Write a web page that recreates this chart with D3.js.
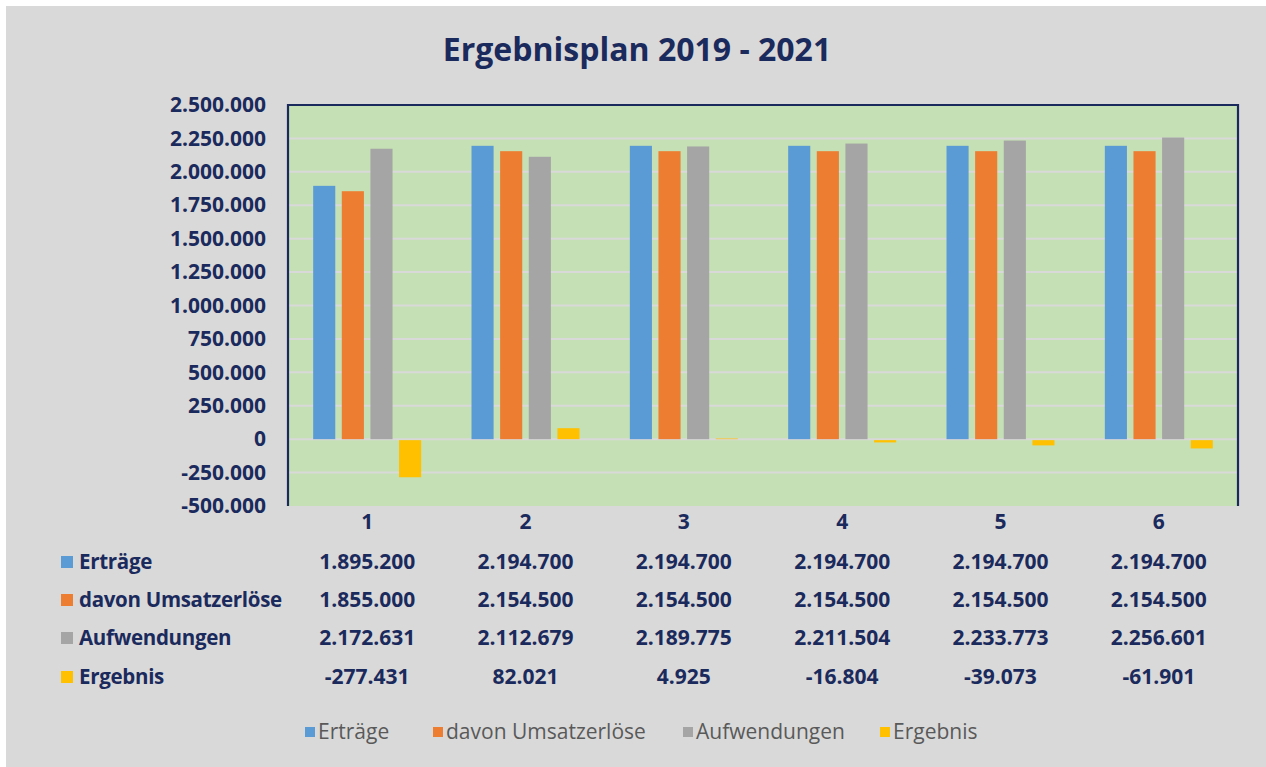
<!DOCTYPE html>
<html><head><meta charset="utf-8">
<script src="https://cdn.jsdelivr.net/npm/d3@7"></script>
<style>
html,body{margin:0;padding:0;background:#fff;}
text{font-family:"Open Sans",Lato,sans-serif;}
</style></head>
<body>
<svg id="c" width="1266" height="767"></svg>
<script>
const categories = ["1","2","3","4","5","6"];
const seriesNames = ["Erträge","davon Umsatzerlöse","Aufwendungen","Ergebnis"];
const ertraege = [1895200,2194700,2194700,2194700,2194700,2194700];
const umsatzerloese = [1855000,2154500,2154500,2154500,2154500,2154500];
const aufwendungen = [2172631,2112679,2189775,2211504,2233773,2256601];
const ergebnis = [-277431,82021,4925,-16804,-39073,-61901];
const yTicks = [-500000,-250000,0,250000,500000,750000,1000000,1250000,1500000,1750000,2000000,2250000,2500000];
const colors = ["#5b9bd5","#ed7d31","#a5a5a5","#ffc000"];
const title = "Ergebnisplan 2019 - 2021";

const seriesValues = [ertraege, umsatzerloese, aufwendungen, ergebnis];
const de = d3.formatLocale({decimal:",", thousands:".", grouping:[3], currency:["","€"], minus:"-"});
const fmt = de.format(",d");
const navy = "#1b2a5c";
const FF = "'Open Sans',Lato,sans-serif";

const svg = d3.select("#c");
svg.append("rect").attr("x",6).attr("y",6).attr("width",1260).attr("height",761).attr("fill","#d9d9d9");

const L=288, R=1238, T=105, B=506;
const x = d3.scaleBand().domain(categories).range([L,R]).padding(0);
const xs = d3.scaleBand().domain(seriesNames).range([-54,54]).paddingInner(0.228).paddingOuter(0);
const y = d3.scaleLinear().domain([-500000,2500000]).range([B,T]);

svg.append("rect").attr("x",L).attr("y",T).attr("width",R-L).attr("height",B-T).attr("fill","#c5e0b4");

// gridlines
svg.append("g").selectAll("line").data(yTicks.filter(v=>v>-500000 && v<2500000)).join("line")
  .attr("x1",L).attr("x2",R).attr("y1",d=>y(d)).attr("y2",d=>y(d))
  .attr("stroke","#d9d9d9").attr("stroke-width",2);

// bars
const groups = svg.append("g").selectAll("g").data(categories).join("g")
  .attr("transform",d=>`translate(${x(d)+x.bandwidth()/2},0)`);
groups.selectAll("rect").data((c,i)=>seriesNames.map((s,j)=>({s,v:seriesValues[j][i],c:colors[j]}))).join("rect")
  .attr("x",d=>xs(d.s)).attr("width",xs.bandwidth())
  .attr("y",d=>d.v>=0?y(d.v):y(0)+1)
  .attr("height",d=>Math.abs(y(d.v)-y(0)))
  .attr("fill",d=>d.c);

// borders
svg.append("path").attr("d",`M${L},${B}V${T}H${R}V${B}`).attr("fill","none").attr("stroke",navy).attr("stroke-width",2.2);

// y axis
const yAxis = d3.axisLeft(y).tickValues(yTicks).tickFormat(d=>fmt(d)).tickSize(0).tickPadding(22);
const ga = svg.append("g").attr("transform",`translate(${L},0)`).call(yAxis);
ga.select(".domain").remove();
ga.selectAll("text").attr("fill",navy).attr("font-weight","bold").attr("font-size",21)
  .attr("font-family",FF);

// x axis labels
const xa = d3.axisBottom(x).tickSize(0).tickPadding(8);
const gx = svg.append("g").attr("transform",`translate(0,${B})`).call(xa);
gx.select(".domain").remove();
gx.selectAll("text").attr("fill",navy).attr("font-weight","bold").attr("font-size",21)
  .attr("font-family",FF);

// data table
const rowY = [562,600,638,677];
seriesNames.forEach((s,j)=>{
  svg.append("rect").attr("x",61).attr("y",rowY[j]-6).attr("width",12).attr("height",12).attr("fill",colors[j]);
  svg.append("text").attr("x",79).attr("y",rowY[j]).attr("dy","0.35em").text(s)
    .attr("fill",navy).attr("font-weight","bold").attr("font-size",20.5).attr("letter-spacing",-0.3);
  svg.append("g").selectAll("text").data(categories).join("text")
    .attr("x",d=>x(d)+x.bandwidth()/2).attr("y",rowY[j]).attr("dy","0.35em").attr("text-anchor","middle")
    .attr("fill",navy).attr("font-weight","bold").attr("font-size",21)
    .text((d,i)=>fmt(seriesValues[j][i]));
});

// title
svg.append("text").attr("x",637).attr("y",61).attr("text-anchor","middle").text(title)
  .attr("fill",navy).attr("font-weight","bold").attr("font-size",32);

// legend
const legX = [305,433,683,880];
seriesNames.forEach((s,j)=>{
  svg.append("rect").attr("x",legX[j]).attr("y",727).attr("width",10).attr("height",10).attr("fill",colors[j]);
  svg.append("text").attr("x",legX[j]+13).attr("y",732).attr("dy","0.35em").text(s)
    .attr("fill","#595959").attr("font-size",21);
});
</script>
</body></html>
